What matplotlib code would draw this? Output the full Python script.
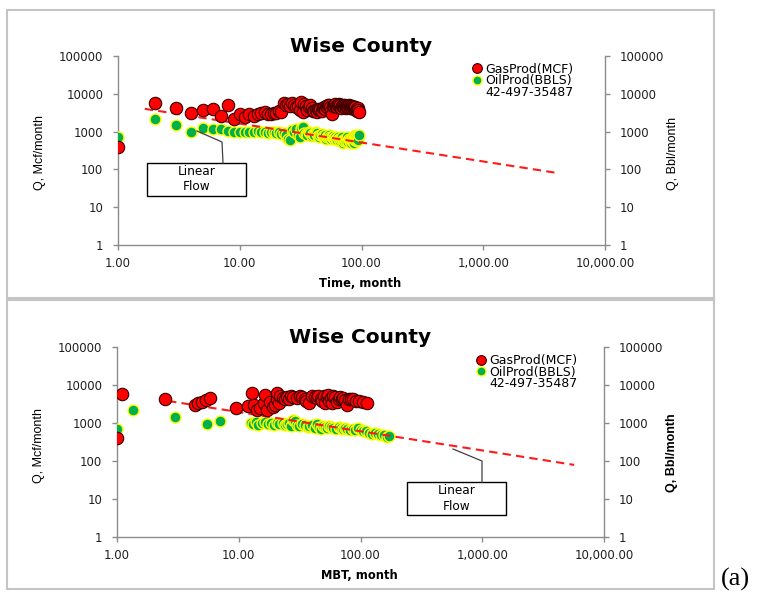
import numpy as np
import matplotlib
matplotlib.use("Agg")
import matplotlib.pyplot as plt
from matplotlib.patches import Rectangle
from matplotlib.lines import Line2D
from matplotlib.ticker import FixedLocator, FuncFormatter, NullLocator

# ---------------- data ----------------
title = "Wise County"
well_id = "42-497-35487"
gas_label = "GasProd(MCF)"
oil_label = "OilProd(BBLS)"

# monthly production vs. time (months 1..95)
gas_rate = [400, 5800, 4300, 3150, 3700, 4000, 2600, 5000, 2200, 2900,
            2500, 2900, 2600, 3000, 3100, 3300, 3000, 2900, 3200, 3100,
            3500, 3400, 5800, 5200, 5500, 4800, 5600, 5000, 4500, 4700,
            3800, 6200, 3300, 5400, 4900, 3700, 4500, 5200, 4100, 3600,
            3500, 3800, 3400, 3900, 3700, 4000, 3600, 4200, 4400, 3900,
            4800, 4500, 5000, 5200, 4600, 3500, 3000, 4800, 5100, 4900,
            5300, 4700, 4400, 5000, 5400, 4600, 5100, 4300, 4900, 5200,
            4800, 4500, 5000, 4700, 4200, 4600, 4900, 4400, 5100, 4800,
            4300, 4500, 4700, 4100, 4400, 4600, 3900, 4200, 4500, 3800,
            4000, 3500, 4300, 3700, 3400]
oil_rate = [700, 2200, 1500, 1000, 1250, 1200, 1150, 1050, 1000, 950,
            1000, 950, 1000, 1050, 950, 1000, 900, 1000, 950, 900,
            950, 850, 900, 800, 650, 600, 1100, 950, 1150, 800,
            700, 1250, 1300, 900, 850, 800, 950, 900, 750, 850,
            800, 1000, 900, 750, 700, 800, 850, 750, 700, 800,
            650, 700, 750, 800, 700, 650, 700, 750, 680, 620,
            700, 650, 600, 700, 650, 620, 580, 650, 700, 600,
            500, 550, 620, 650, 580, 700, 600, 520, 650, 580,
            600, 500, 550, 620, 700, 650, 500, 600, 800, 750,
            550, 700, 650, 600, 800]
months = np.arange(1, len(gas_rate) + 1)

# production vs. material balance time
gas_mbt = [1.0, 1.1, 2.5, 4.4, 4.6, 5.0, 5.4, 5.8, 9.5, 12, 12.8, 13.4, 14,
           15, 16, 16.4, 17, 18, 19, 20, 20.5, 20.7, 21.5, 22, 23, 24, 25,
           26, 27, 28, 30, 32, 33, 35, 36, 38, 40, 42, 44, 45, 47, 48, 50,
           51, 53, 54, 55, 57, 58, 60, 62, 64, 66, 68, 70, 72, 75, 78, 80,
           84, 87, 92, 98, 104, 114]
gas_mbt_rate = [400, 5800, 4250, 3000, 3300, 3600, 4000, 4600, 2500, 2800,
                6000, 3000, 2200, 2500, 3300, 5300, 2200, 3600, 2600, 3000,
                4400, 6100, 3300, 5000, 4600, 4200, 4800, 4400, 5000, 4800,
                4600, 5000, 4700, 4300, 3800, 3300, 5000, 4900, 4600, 5100,
                4200, 3700, 5200, 3400, 4800, 5300, 3900, 4500, 3400, 5000,
                4700, 3600, 4400, 4900, 4200, 4500, 4000, 3000, 4400, 4200,
                4300, 3700, 3900, 3600, 3400]
oil_mbt = [1.0, 1.35, 3.0, 5.5, 7.0, 12.5, 13.2, 13.8, 14.5, 15.5, 16.5,
           17.5, 18.5, 19.5, 20.5, 21.5, 23, 24, 25, 26, 27, 28, 29, 30, 31,
           33, 35, 37, 38, 40, 42, 44, 46, 47, 49, 51, 53, 55, 57, 60, 63,
           66, 69, 72, 75, 78, 82, 86, 90, 95, 100, 105, 112, 118, 125, 132,
           140, 148, 157, 165, 170]
oil_mbt_rate = [700, 2150, 1450, 950, 1100, 1000, 950, 1050, 900, 1000,
                1050, 950, 1000, 900, 1000, 950, 1000, 900, 950, 1000, 850,
                1200, 1100, 900, 850, 950, 900, 800, 850, 900, 750, 950,
                800, 700, 850, 800, 750, 850, 800, 750, 700, 800, 750, 700,
                750, 700, 650, 700, 650, 750, 650, 600, 600, 550, 520, 550,
                500, 480, 470, 440, 450]

# half-slope (linear flow) trend lines: end points
trend_time = [1.66, 3900]
trend_time_rate = [4000, 82]
trend_mbt = [2.63, 5690]
trend_mbt_rate = [3800, 79]

x_ticks = [1, 10, 100, 1000, 10000]
y_ticks = [1, 10, 100, 1000, 10000, 100000]

# ---------------- style ----------------
W, H = 757, 595
GAS_FACE, GAS_EDGE = "#ff0000", "#3a0000"
OIL_FACE, OIL_EDGE = "#00b050", "#ffff00"
AXIS_GRAY = "#8c8c8c"
TICK_FONT = 8.5
LABEL_FONT = ["Liberation Sans", "DejaVu Sans"]

fig = plt.figure(figsize=(W / 100, H / 100), dpi=100)
fig.patch.set_facecolor("white")


def px_box(x0, y0, x1, y1):
    """figure-fraction rectangle from pixel corners (top-left origin)"""
    return [x0 / W, 1 - y1 / H, (x1 - x0) / W, (y1 - y0) / H]


def draw_panel(rect, x, gas, ox, oil, tx, ty, xlabel, box_px, conn_px,
               left_lab_y, right_lab_y, right_weight, legend_pos):
    ax = fig.add_axes(rect)
    ax.set_xscale("log")
    ax.set_yscale("log")
    ax.set_xlim(1, 10000)
    ax.set_ylim(1, 100000)

    ax.scatter(ox, oil, s=62, facecolor=OIL_FACE, edgecolor=OIL_EDGE,
               linewidth=1.0, zorder=3, label=oil_label)
    ax.plot(tx, ty, color="#ff1a1a", linestyle=(0, (4, 2.5)), linewidth=1.5,
            zorder=4)
    ax.scatter(x, gas, s=80, facecolor=GAS_FACE, edgecolor=GAS_EDGE,
               linewidth=0.8, zorder=5, label=gas_label)

    for side in ("top", "right"):
        ax.spines[side].set_visible(False)
    for side in ("left", "bottom"):
        ax.spines[side].set_color(AXIS_GRAY)
        ax.spines[side].set_linewidth(1.0)

    ax.xaxis.set_major_locator(FixedLocator(x_ticks))
    ax.xaxis.set_minor_locator(NullLocator())
    ax.xaxis.set_major_formatter(FuncFormatter(lambda v, p: f"{v:,.2f}"))
    ax.yaxis.set_major_locator(FixedLocator(y_ticks))
    ax.yaxis.set_minor_locator(NullLocator())
    ax.yaxis.set_major_formatter(FuncFormatter(lambda v, p: f"{v:.0f}"))
    ax.tick_params(axis="both", direction="out", length=3.6, width=1,
                   color=AXIS_GRAY, labelsize=TICK_FONT, labelcolor="#202020")
    ax.tick_params(axis="y", pad=7)
    ax.tick_params(axis="x", pad=5)

    ax2 = ax.twinx()
    ax2.set_yscale("log")
    ax2.set_ylim(1, 100000)
    for side in ("top", "left", "bottom"):
        ax2.spines[side].set_visible(False)
    ax2.spines["right"].set_color(AXIS_GRAY)
    ax2.spines["right"].set_linewidth(1.0)
    ax2.yaxis.set_major_locator(FixedLocator(y_ticks))
    ax2.yaxis.set_minor_locator(NullLocator())
    ax2.yaxis.set_major_formatter(FuncFormatter(lambda v, p: f"{v:.0f}"))
    ax2.tick_params(axis="y", direction="out", length=3.6, width=1,
                    color=AXIS_GRAY, labelsize=TICK_FONT, labelcolor="#202020",
                    pad=7)

    ax.text(0.5, 1.048, title, transform=ax.transAxes, ha="center",
            va="center", fontsize=14.5, fontweight="bold")
    ax.set_xlabel(xlabel, fontsize=8.3, fontweight="bold")
    ax.xaxis.set_label_coords(0.497, -0.168)
    ax.set_ylabel("Q, Mcf/month", fontsize=9, family=LABEL_FONT, va="center")
    ax.yaxis.set_label_coords(-0.160, left_lab_y)
    ax2.set_ylabel("Q, Bbl/month", fontsize=9, family=LABEL_FONT, va="center",
                   fontweight=right_weight)
    ax2.yaxis.set_label_coords(1.140, right_lab_y)

    # legend
    h_gas = Line2D([], [], marker="o", linestyle="none", markersize=7,
                   markerfacecolor=GAS_FACE, markeredgecolor=GAS_EDGE,
                   markeredgewidth=0.8)
    h_oil = Line2D([], [], marker="o", linestyle="none", markersize=6.5,
                   markerfacecolor=OIL_FACE, markeredgecolor=OIL_EDGE,
                   markeredgewidth=1.0)
    h_id = Line2D([], [], linestyle="none")
    ax.legend([h_gas, h_oil, h_id], [gas_label, oil_label, well_id],
              loc="upper left", bbox_to_anchor=legend_pos, frameon=False,
              fontsize=9, handlelength=0.7, handletextpad=0.3,
              labelspacing=-0.12, borderpad=0, borderaxespad=0)

    # "Linear Flow" call-out
    (bx0, by0), (bx1, by1) = box_px
    disp = lambda px, py: fig.transFigure.transform((px / W, 1 - py / H))
    to_data = ax.transData.inverted()
    d0 = to_data.transform(disp(bx0, by1))
    d1 = to_data.transform(disp(bx1, by0))
    ax.add_patch(Rectangle((d0[0], d0[1]), d1[0] - d0[0], d1[1] - d0[1],
                           facecolor="white", edgecolor="black",
                           linewidth=1.0, zorder=6))
    cx, cy = to_data.transform(disp((bx0 + bx1) / 2, (by0 + by1) / 2))
    ax.text(cx, cy, "Linear\nFlow", ha="center", va="center", fontsize=8.7,
            linespacing=1.2, zorder=7)
    pts = np.array([to_data.transform(disp(*p)) for p in conn_px])
    ax.plot(pts[:, 0], pts[:, 1], color="#404040", linewidth=0.9, zorder=6)
    return ax


# panel frames
for (x0, y0, x1, y1) in [(7, 10, 714, 298), (7, 300, 714, 589)]:
    fig.patches.append(Rectangle((x0 / W, 1 - y1 / H), (x1 - x0) / W,
                                 (y1 - y0) / H, transform=fig.transFigure,
                                 facecolor="none", edgecolor="#c4c4c4",
                                 linewidth=1.5))

draw_panel(px_box(118, 56, 605, 245), months, gas_rate, months, oil_rate,
           trend_time, trend_time_rate, "Time, month",
           ((147, 163), (246, 196)), [(223, 163), (222, 142), (197, 131)],
           0.487, 0.487, "normal", (0.728, 0.965))

draw_panel(px_box(117, 347, 604, 537), gas_mbt, gas_mbt_rate, oil_mbt,
           oil_mbt_rate, trend_mbt, trend_mbt_rate, "MBT, month",
           ((407, 482), (506, 515)), [(482, 482), (482, 461), (453, 449)],
           0.484, 0.442, "bold", (0.738, 0.962))

fig.text(721 / W, 1 - 586 / H, "(a)", fontsize=19, family="Liberation Serif",
         ha="left", va="baseline")

fig.savefig("out.png", dpi=100, facecolor="white")
